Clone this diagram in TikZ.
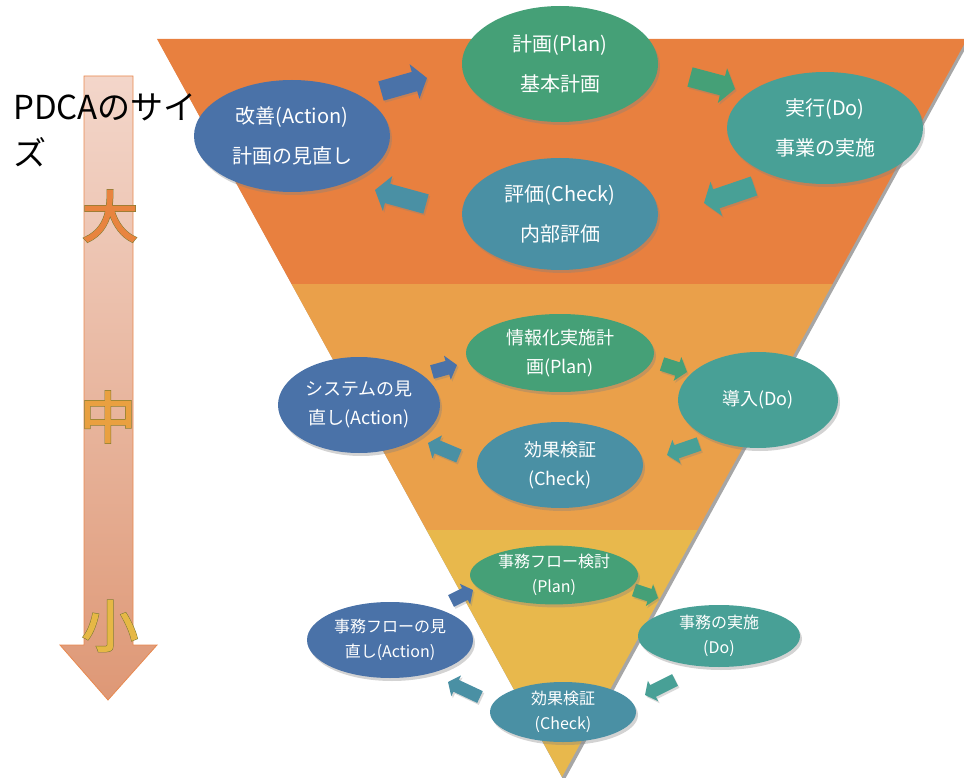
\documentclass[tikz,border=0pt]{standalone}
\usepackage{fontspec}
\setmainfont{Noto Sans CJK JP}
\newfontfamily\chout[FakeBold=4]{Noto Sans CJK JP}
\newfontfamily\chin[FakeBold=2.2]{Noto Sans CJK JP}
\usetikzlibrary{shapes.geometric,shadows,calc}
\definecolor{bandA}{HTML}{E8803F}
\definecolor{bandB}{HTML}{EAA04A}
\definecolor{bandC}{HTML}{E8B84C}
\definecolor{cPlan}{HTML}{45A077}
\definecolor{cDo}{HTML}{48A096}
\definecolor{cCheck}{HTML}{4A90A4}
\definecolor{cAct}{HTML}{4A72A8}
\definecolor{arrTop}{HTML}{F3D6CA}
\definecolor{arrBot}{HTML}{DE9876}
\definecolor{arrEdge}{HTML}{E8894F}
\definecolor{chA}{HTML}{E8843F}
\definecolor{chB}{HTML}{E9A040}
\definecolor{chC}{HTML}{E6B845}
\definecolor{chOut}{HTML}{7A7A30}
\newcommand{\blkarrow}[6]{% #1 style, #2 tail, #3 tip, #4 half shaft, #5 half head, #6 head length
  \coordinate (bb) at ($(#3)!#6!(#2)$);
  \fill[#1] ($(#2)!#4!90:(#3)$) -- ($(bb)!#4!-90:(#2)$) -- ($(bb)!#5!-90:(#2)$) -- (#3)
    -- ($(bb)!#5!90:(#2)$) -- ($(bb)!#4!90:(#2)$) -- ($(#2)!#4!-90:(#3)$) -- cycle;
}
\begin{document}
\begin{tikzpicture}[x=1pt,y=-1pt,
  ell/.style={ellipse, inner sep=0pt, text=white, align=center,
    drop shadow={shadow xshift=2pt, shadow yshift=-3pt, opacity=0.35}},
  ftop/.style={font=\fontsize{20}{40}\selectfont},
  fmid/.style={font=\fontsize{18}{29}\selectfont},
  fbot/.style={font=\fontsize{16}{25}\selectfont},
  arrsh/.style={drop shadow={shadow xshift=1.5pt, shadow yshift=-2pt, opacity=0.3}},
  bigout/.style={font=\chout\fontsize{56}{56}\selectfont, inner sep=0pt, text=chOut},
  bigin/.style={font=\chin\fontsize{56}{56}\selectfont, inner sep=0pt}]
\useasboundingbox (0,0) rectangle (964,778);

% inverted triangle with shadow
\fill[black, opacity=0.35] (159,42) -- (969,42) -- (564,781) -- cycle;
\fill[bandA] (157,39) -- (967,39) -- (832.5,284) -- (291.5,284) -- cycle;
\fill[bandB] (291.5,284) -- (832.5,284) -- (697.5,530) -- (426.5,530) -- cycle;
\fill[bandC] (426.5,530) -- (697.5,530) -- (562,777) -- cycle;

% size arrow
\path[top color=arrTop, bottom color=arrBot, draw=arrEdge, line width=0.8pt]
  (84,76) -- (133,76) -- (133,645) -- (157,645) -- (108,700) -- (60,645) -- (84,645) -- cycle;
\node[anchor=north west, inner sep=0pt, align=left, font=\fontsize{33}{46}\selectfont] (title) at (13,93) {PDCAのサイ\\ズ};
\node[bigout] (chbigo) at (110,216) {大};
\node[bigin, text=chA] (chbig) at (chbigo) {大};
\node[bigout] (chmido) at (108,417) {中};
\node[bigin, text=chB] (chmid) at (chmido) {中};
\node[bigout] (chsmallo) at (110,626) {小};
\node[bigin, text=chC] (chsmall) at (chsmallo) {小};

% arrow end coordinates
\coordinate (t1) at (381,91);  \coordinate (h1) at (427,78);
\coordinate (t2) at (690,77);  \coordinate (h2) at (735,89);
\coordinate (t3) at (754,186); \coordinate (h3) at (704,203);
\coordinate (t4) at (426,204); \coordinate (h4) at (375,190);
\coordinate (t5) at (432,372); \coordinate (h5) at (457,365);
\coordinate (t6) at (662,364); \coordinate (h6) at (687,372);
\coordinate (t7) at (699,444); \coordinate (h7) at (667,455);
\coordinate (t8) at (459,456); \coordinate (h8) at (428,443);
\coordinate (t9) at (451,601); \coordinate (h9) at (473,590);
\coordinate (t10) at (634,590); \coordinate (h10) at (658,598);
\coordinate (t11) at (675,680); \coordinate (h11) at (645,695);
\coordinate (t12) at (480,697); \coordinate (h12) at (448,682);

\blkarrow{cAct,arrsh}{t1}{h1}{10pt}{18pt}{13pt}
\blkarrow{cPlan,arrsh}{t2}{h2}{10pt}{18pt}{13pt}
\blkarrow{cDo,arrsh}{t3}{h3}{10pt}{18pt}{13pt}
\blkarrow{cCheck,arrsh}{t4}{h4}{10pt}{18pt}{13pt}
\blkarrow{cAct,arrsh}{t5}{h5}{7pt}{12.5pt}{10pt}
\blkarrow{cPlan,arrsh}{t6}{h6}{7pt}{12.5pt}{10pt}
\blkarrow{cDo,arrsh}{t7}{h7}{7pt}{12.5pt}{10pt}
\blkarrow{cCheck,arrsh}{t8}{h8}{7pt}{12.5pt}{10pt}
\blkarrow{cAct,arrsh}{t9}{h9}{6.5pt}{11.5pt}{9pt}
\blkarrow{cPlan,arrsh}{t10}{h10}{6.5pt}{11.5pt}{9pt}
\blkarrow{cDo,arrsh}{t11}{h11}{6.5pt}{11.5pt}{9pt}
\blkarrow{cCheck,arrsh}{t12}{h12}{6.5pt}{11.5pt}{9pt}

% top cycle
\node[ell, ftop, fill=cPlan, minimum width=196pt, minimum height=116pt] (p1) at (560,64) {計画(Plan)\\基本計画};
\node[ell, ftop, fill=cAct, minimum width=196pt, minimum height=112pt] (a1) at (292,136) {改善(Action)\\計画の見直し};
\node[ell, ftop, fill=cDo, minimum width=196pt, minimum height=112pt] (d1) at (825,128) {実行(Do)\\事業の実施};
\node[ell, ftop, fill=cCheck, minimum width=196pt, minimum height=112pt] (c1) at (560,214) {評価(Check)\\内部評価};

% middle cycle
\node[ell, fmid, fill=cPlan, minimum width=188pt, minimum height=78pt] (p2) at (560,353) {情報化実施計\\画(Plan)};
\node[ell, fmid, fill=cAct, minimum width=162pt, minimum height=96pt] (a2) at (359,405) {システムの見\\直し(Action)};
\node[ell, fmid, fill=cDo, minimum width=160pt, minimum height=96pt] (d2) at (758,400) {導入(Do)};
\node[ell, fmid, fill=cCheck, minimum width=166pt, minimum height=86pt] (c2) at (560,465) {効果検証\\(Check)};

% bottom cycle
\node[ell, fbot, fill=cPlan, minimum width=168pt, minimum height=56pt] (p3) at (554,575) {事務フロー検討\\(Plan)};
\node[ell, fbot, fill=cAct, minimum width=166pt, minimum height=76pt] (a3) at (390,640) {事務フローの見\\直し(Action)};
\node[ell, fbot, fill=cDo, minimum width=162pt, minimum height=62pt] (d3) at (719,636) {事務の実施\\(Do)};
\node[ell, fbot, fill=cCheck, minimum width=146pt, minimum height=60pt] (c3) at (563,712) {効果検証\\(Check)};
\end{tikzpicture}
\end{document}
